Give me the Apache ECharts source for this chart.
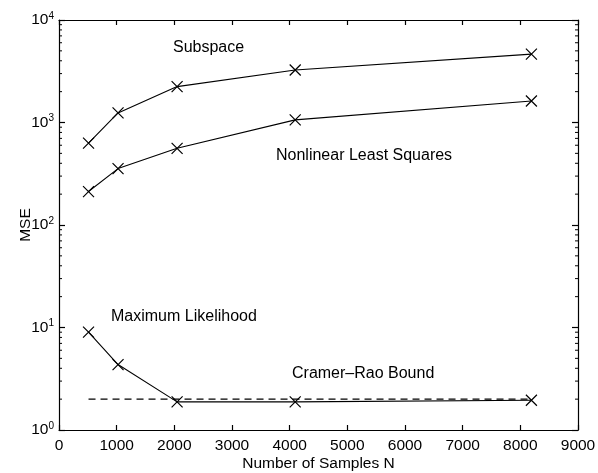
<!DOCTYPE html>
<html>
<head>
<meta charset="utf-8">
<script src="https://cdn.jsdelivr.net/npm/echarts@6/dist/echarts.min.js"></script>
<style>html,body{margin:0;padding:0;background:#fff}#c{width:598px;height:473px}</style>
</head>
<body>
<div id="c"></div>
<script>
var sampleN = [512, 1024, 2048, 4096, 8192];
var subspace = [630, 1240, 2240, 3250, 4650];
var nls = [212, 355, 560, 1060, 1620];
var ml = [9.0, 4.35, 1.88, 1.88, 1.95];
var crb = [2.0, 2.0, 2.0, 2.0, 2.0];
var xTicks = [0, 1000, 2000, 3000, 4000, 5000, 6000, 7000, 8000, 9000];
var yDecades = [1, 10, 100, 1000, 10000];

var font = 'Liberation Sans, Arial, Helvetica, sans-serif';
var ink = '#000';

function pairs(xs, ys) { return xs.map(function (x, i) { return [x, ys[i]]; }); }

// minor tick positions at 2..9 x 10^k on the log axis
var minorVals = [];
for (var k = 0; k < yDecades.length - 1; k++) {
  for (var m = 2; m <= 9; m++) minorVals.push([0, m * yDecades[k]]);
}

var xMark = 'path://M0,0L10,10M10,0L0,10';
function lineSeries(name, ys, dashed, sym) {
  return {
    name: name, type: 'line', data: pairs(sampleN, ys),
    symbol: sym ? xMark : 'none', symbolSize: 11,
    itemStyle: { color: 'transparent', borderColor: ink, borderWidth: 1.2 },
    lineStyle: { color: ink, width: 1.1, type: dashed ? [7, 5] : 'solid' },
    silent: true, z: 3
  };
}

var chart = echarts.init(document.getElementById('c'), null, { renderer: 'canvas' });
chart.setOption({
  backgroundColor: '#fff',
  animation: false,
  grid: { left: 59, right: 20, top: 20, bottom: 43, containLabel: false, outerBoundsMode: 'none' },
  xAxis: [{
    type: 'value', min: 0, max: 9000, interval: 1000,
    name: 'Number of Samples N', nameLocation: 'middle', nameGap: 26, nameMoveOverlap: false,
    nameTextStyle: { fontFamily: font, fontSize: 15.5, color: ink },
    axisLine: { show: true, onZero: false, lineStyle: { color: ink, width: 1.2 } },
    axisTick: { show: true, inside: true, length: 5, lineStyle: { color: ink, width: 1.2 } },
    axisLabel: { fontFamily: font, fontSize: 15.5, color: ink, margin: 8,
      formatter: function (v) { return String(v); } },
    splitLine: { show: false }
  }, {
    type: 'value', min: 0, max: 9000, interval: 1000, position: 'top',
    axisLine: { show: true, onZero: false, lineStyle: { color: ink, width: 1.2 } },
    axisTick: { show: true, inside: true, length: 5, lineStyle: { color: ink, width: 1.2 } },
    axisLabel: { show: false }, splitLine: { show: false }
  }],
  yAxis: [{
    type: 'log', logBase: 10, min: 1, max: 10000,
    name: 'MSE', nameLocation: 'middle', nameGap: 25, nameRotate: 90, nameMoveOverlap: false,
    nameTextStyle: { fontFamily: font, fontSize: 15.5, color: ink },
    axisLine: { show: true, onZero: false, lineStyle: { color: ink, width: 1.2 } },
    axisTick: { show: true, inside: true, length: 6, lineStyle: { color: ink, width: 1.2 } },
    axisLabel: {
      margin: 5, color: ink,
      formatter: function (v) { return '{b|10}{s|' + Math.round(Math.log10(v)) + '}'; },
      rich: {
        b: { fontFamily: font, fontSize: 15.5, color: ink, lineHeight: 18 },
        s: { fontFamily: font, fontSize: 10, color: ink, verticalAlign: 'top', lineHeight: 12 }
      }
    },
    splitLine: { show: false }
  }, {
    type: 'log', logBase: 10, min: 1, max: 10000, position: 'right',
    axisLine: { show: true, onZero: false, lineStyle: { color: ink, width: 1.2 } },
    axisTick: { show: true, inside: true, length: 6, lineStyle: { color: ink, width: 1.2 } },
    axisLabel: { show: false }, splitLine: { show: false }
  }],
  series: [
    lineSeries('Subspace', subspace, false, true),
    lineSeries('Nonlinear Least Squares', nls, false, true),
    lineSeries('Maximum Likelihood', ml, false, true),
    lineSeries('Cramer-Rao Bound', crb, true, false),
    {
      type: 'custom', silent: true, data: minorVals, z: 2,
      renderItem: function (params, api) {
        var cs = params.coordSys;
        var y = api.coord([0, api.value(1)])[1];
        var st = { stroke: ink, lineWidth: 1 };
        return { type: 'group', children: [
          { type: 'line', shape: { x1: cs.x, y1: y, x2: cs.x + 3, y2: y }, style: st },
          { type: 'line', shape: { x1: cs.x + cs.width - 3, y1: y, x2: cs.x + cs.width, y2: y }, style: st }
        ] };
      }
    }
  ],
  graphic: [
    { type: 'text', left: 173, top: 40, style: { text: 'Subspace', font: '16px ' + font, fill: ink } },
    { type: 'text', left: 276, top: 148, style: { text: 'Nonlinear Least Squares', font: '16px ' + font, fill: ink } },
    { type: 'text', left: 111, top: 309, style: { text: 'Maximum Likelihood', font: '16px ' + font, fill: ink } },
    { type: 'text', left: 292, top: 366, style: { text: 'Cramer\u2013Rao Bound', font: '16px ' + font, fill: ink } }
  ]
});
</script>
</body>
</html>
